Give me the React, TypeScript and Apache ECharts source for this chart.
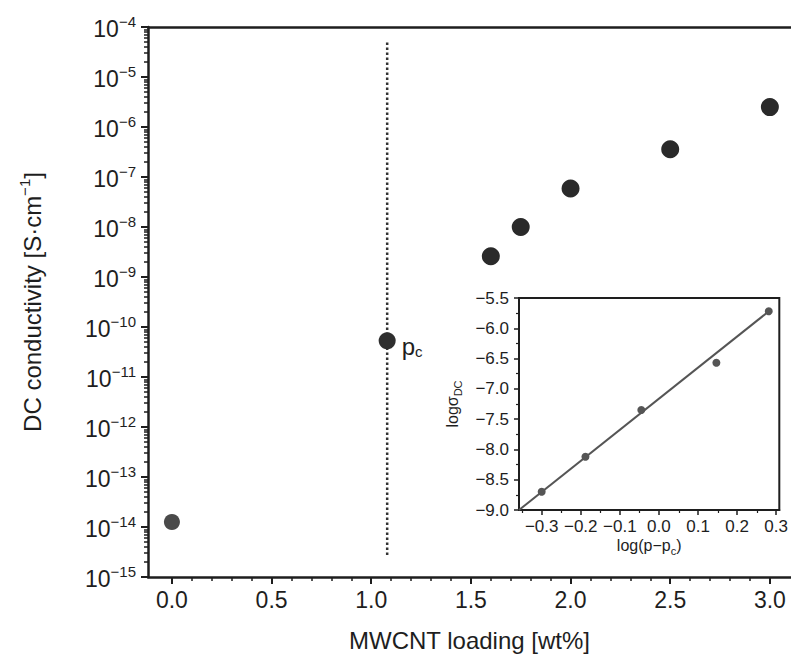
import React, { useEffect, useRef } from 'react';
import * as echarts from 'echarts';

// ---- Main plot data ----
const belowLoading = [0.0];
const belowConductivity = [1.26e-14];
const pcLoading = [1.08];
const pcConductivity = [5.3e-11];
const aboveLoading = [1.6, 1.75, 2.0, 2.5, 3.0];
const aboveConductivity = [2.6e-9, 1.0e-8, 5.9e-8, 3.6e-7, 2.5e-6];
const pcLineLoading = [1.08, 1.08];
const pcLineConductivity = [4.9e-5, 2.7e-15];

const xTicks = [0.0, 0.5, 1.0, 1.5, 2.0, 2.5, 3.0];
const xMinorTicks = [0.1, 0.2, 0.3, 0.4, 0.6, 0.7, 0.8, 0.9, 1.1, 1.2, 1.3, 1.4, 1.6, 1.7, 1.8, 1.9, 2.1, 2.2, 2.3, 2.4, 2.6, 2.7, 2.8, 2.9];
const yExponents = [-15, -14, -13, -12, -11, -10, -9, -8, -7, -6, -5, -4];
const yMinorMantissas = [2, 3, 4, 5, 6, 7, 8, 9];

// ---- Inset data ----
const insetLogP = [-0.3, -0.188, -0.045, 0.147, 0.281];
const insetLogSigma = [-8.7, -8.12, -7.35, -6.57, -5.72];
const fitLogP = [-0.358, 0.285];
const fitLogSigma = [-9.0, -5.7];
const insetXTicks = [-0.3, -0.2, -0.1, 0.0, 0.1, 0.2, 0.3];
const insetXMinorTicks = [-0.35, -0.25, -0.15, -0.05, 0.05, 0.15, 0.25];

const FONT = 'Liberation Sans';
const INK = '#1e1e1e';

const zip = (a: number[], b: number[]) => a.map((v, i) => [v, b[i]]);

export default function App() {
  const ref = useRef<HTMLDivElement>(null);
  useEffect(() => {
    document.body.style.margin = '0';
    if (!ref.current) return;
    const chart = echarts.init(ref.current, null, { renderer: 'svg' });

    const yMinor: number[] = [];
    yExponents.slice(0, -1).forEach((e) => {
      yMinorMantissas.forEach((m) => yMinor.push(m * Math.pow(10, e)));
    });
    const yMajor = yExponents.map((e) => Math.pow(10, e));
    const signed = (v: number) => (v < -1e-9 ? '−' : '') + Math.abs(v).toFixed(1);

    const mainRect = { left: 148, top: 27, right: 0, bottom: 91 };
    const insetRect = { left: 519, top: 298, right: 11, bottom: 158 };
    const noLine = { show: false, onZero: false };
    const hiddenValue = (gridIndex: number, min: number, max: number) => ({
      gridIndex, type: 'value', min, max, show: false, axisLine: noLine,
    });

    const option: any = {
      animation: false,
      backgroundColor: '#ffffff',
      textStyle: { fontFamily: FONT, color: INK },
      grid: [
        { ...mainRect, show: false },
        { ...insetRect, show: true, borderColor: INK, borderWidth: 2, backgroundColor: '#ffffff', z: 3 },
        { ...mainRect, show: false },
        { ...mainRect, show: false },
        { ...insetRect, show: false },
      ],
      xAxis: [
        {
          gridIndex: 0, type: 'value', min: -0.12, max: 3.106, position: 'bottom',
          axisLine: { show: true, onZero: false, lineStyle: { color: INK, width: 2.5 } },
          axisTick: { show: true, customValues: xTicks, length: 7, lineStyle: { color: INK, width: 2 } },
          axisLabel: { show: true, customValues: xTicks, formatter: (v: number) => v.toFixed(1), fontSize: 23, margin: 11, color: INK, fontFamily: FONT },
          splitLine: { show: false },
          name: 'MWCNT loading [wt%]', nameLocation: 'middle', nameGap: 51,
          nameTextStyle: { fontSize: 24, color: INK, fontFamily: FONT },
        },
        {
          gridIndex: 2, type: 'value', min: -0.12, max: 3.106, position: 'bottom',
          axisLine: noLine,
          axisTick: { show: true, customValues: xMinorTicks, length: 4, lineStyle: { color: INK, width: 1.5 } },
          axisLabel: { show: false }, splitLine: { show: false },
        },
        {
          gridIndex: 3, type: 'value', min: -0.12, max: 3.106, position: 'top',
          axisLine: { show: true, onZero: false, lineStyle: { color: INK, width: 2.5 } },
          axisTick: { show: false }, axisLabel: { show: false }, splitLine: { show: false },
        },
        {
          gridIndex: 1, type: 'value', min: -0.358, max: 0.308, position: 'bottom',
          axisLine: { show: true, onZero: false, lineStyle: { color: INK, width: 2 } },
          axisTick: { show: true, customValues: insetXTicks, length: 5, lineStyle: { color: INK, width: 1.5 } },
          axisLabel: { show: true, customValues: insetXTicks, formatter: signed, fontSize: 17, margin: 8, color: INK, fontFamily: FONT },
          splitLine: { show: false },
          name: '{n|log(p−p}{s|c}{n|)}', nameLocation: 'middle', nameGap: 27,
          nameTextStyle: {
            rich: {
              n: { fontSize: 16, color: INK, fontFamily: FONT, lineHeight: 19, verticalAlign: 'top' },
              s: { fontSize: 11, color: INK, fontFamily: FONT, lineHeight: 11, verticalAlign: 'bottom' },
            },
          },
        },
        {
          gridIndex: 4, type: 'value', min: -0.358, max: 0.308, position: 'bottom',
          axisLine: noLine,
          axisTick: { show: true, customValues: insetXMinorTicks, length: 3, lineStyle: { color: INK, width: 1.2 } },
          axisLabel: { show: false }, splitLine: { show: false },
        },
      ],
      yAxis: [
        {
          gridIndex: 0, type: 'log', logBase: 10, min: 1e-15, max: 1e-4, position: 'left',
          axisLine: { show: true, onZero: false, lineStyle: { color: INK, width: 2.5 } },
          axisTick: { show: true, customValues: yMajor, length: 7, lineStyle: { color: INK, width: 2 } },
          axisLabel: {
            show: true, customValues: yMajor, margin: 12,
            formatter: (v: number) => {
              const e = Math.round(Math.log10(v));
              return '{b|10}{s|−' + Math.abs(e) + '}';
            },
            rich: {
              b: { fontSize: 23, color: INK, fontFamily: FONT, lineHeight: 27, verticalAlign: 'bottom' },
              s: { fontSize: 15, color: INK, fontFamily: FONT, lineHeight: 15, verticalAlign: 'top' },
            },
          },
          splitLine: { show: false },
          name: '{n|DC conductivity [S·cm}{s|−1}{n|]}', nameLocation: 'middle', nameGap: 104,
          nameTextStyle: {
            rich: {
              n: { fontSize: 24, color: INK, fontFamily: FONT, lineHeight: 27, verticalAlign: 'bottom' },
              s: { fontSize: 15, color: INK, fontFamily: FONT, lineHeight: 15, verticalAlign: 'top' },
            },
          },
        },
        {
          gridIndex: 2, type: 'log', logBase: 10, min: 1e-15, max: 1e-4, position: 'left',
          axisLine: noLine,
          axisTick: { show: true, customValues: yMinor, length: 4, lineStyle: { color: INK, width: 1.5 } },
          axisLabel: { show: false }, splitLine: { show: false },
        },
        {
          gridIndex: 1, type: 'value', min: -9, max: -5.5, interval: 0.5, position: 'left',
          axisLine: { show: true, onZero: false, lineStyle: { color: INK, width: 2 } },
          axisTick: { show: true, length: 5, lineStyle: { color: INK, width: 1.5 } },
          minorTick: { show: true, splitNumber: 2, length: 3, lineStyle: { color: INK, width: 1.2 } },
          axisLabel: { show: true, formatter: signed, fontSize: 17, margin: 10, color: INK, fontFamily: FONT },
          splitLine: { show: false },
          name: '{n|logσ}{s|DC}', nameLocation: 'middle', nameGap: 56,
          nameTextStyle: {
            rich: {
              n: { fontSize: 16, color: INK, fontFamily: FONT, lineHeight: 19, verticalAlign: 'top' },
              s: { fontSize: 11, color: INK, fontFamily: FONT, lineHeight: 11, verticalAlign: 'bottom' },
            },
          },
        },
        hiddenValue(3, 0, 1),
        hiddenValue(4, 0, 1),
      ],
      series: [
        {
          type: 'line', xAxisIndex: 0, yAxisIndex: 0,
          data: zip(pcLineLoading, pcLineConductivity),
          symbol: 'none', lineStyle: { color: '#333', width: 2.5, type: 'dotted' }, z: 1,
        },
        {
          type: 'scatter', xAxisIndex: 0, yAxisIndex: 0,
          data: zip(belowLoading, belowConductivity),
          symbolSize: 16, itemStyle: { color: '#4a4a4a', opacity: 1 }, z: 4,
        },
        {
          type: 'scatter', xAxisIndex: 0, yAxisIndex: 0,
          data: zip(pcLoading, pcConductivity),
          symbolSize: 17, itemStyle: { color: '#2e2e2e', opacity: 1 }, z: 4,
          label: {
            show: true, position: 'right', distance: 6, offset: [0, 6],
            formatter: '{p|p}{c|c}',
            rich: {
              p: { fontSize: 24, color: INK, fontFamily: FONT, lineHeight: 24, verticalAlign: 'top' },
              c: { fontSize: 15, color: INK, fontFamily: FONT, lineHeight: 15, verticalAlign: 'bottom' },
            },
          },
        },
        {
          type: 'scatter', xAxisIndex: 0, yAxisIndex: 0,
          data: zip(aboveLoading, aboveConductivity),
          symbolSize: 18, itemStyle: { color: '#2a2a2a', opacity: 1 }, z: 4,
        },
        {
          type: 'line', xAxisIndex: 3, yAxisIndex: 2,
          data: zip(fitLogP, fitLogSigma),
          symbol: 'none', lineStyle: { color: '#555555', width: 2 }, z: 5,
        },
        {
          type: 'scatter', xAxisIndex: 3, yAxisIndex: 2,
          data: zip(insetLogP, insetLogSigma),
          symbolSize: 8, itemStyle: { color: '#555555', opacity: 1 }, z: 6,
        },
      ],
    };
    chart.setOption(option);
    return () => chart.dispose();
  }, []);
  return <div ref={ref} style={{ width: 791, height: 668 }} />;
}
